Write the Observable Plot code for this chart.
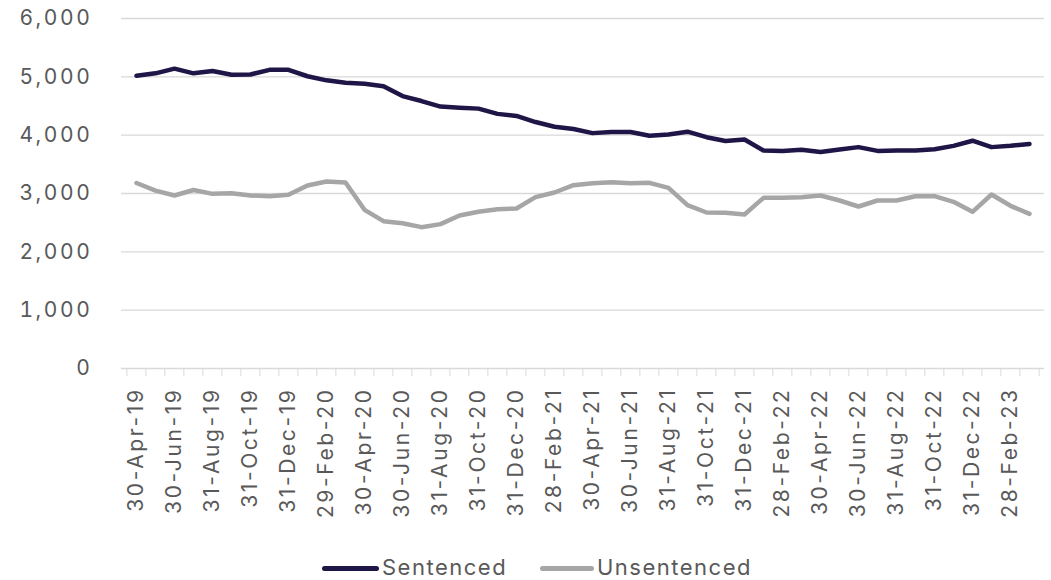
<!DOCTYPE html>
<html>
<head>
<meta charset="utf-8">
<script src="https://cdn.jsdelivr.net/npm/d3@7"></script>
<script src="https://cdn.jsdelivr.net/npm/@observablehq/plot@0.6"></script>
<style>
  html, body { margin: 0; padding: 0; background: #ffffff; }
  #wrap { position: relative; width: 1051px; height: 580px; overflow: hidden; }
  #chart svg text { letter-spacing: 2.6px; }
  .lg-sw { position: absolute; height: 5px; border-radius: 3px; }
  .lg-tx { position: absolute; font-family: Inter, "DejaVu Sans", sans-serif; font-size: 22px; color: #595959; line-height: 26px; letter-spacing: 1.5px; white-space: nowrap; }
</style>
</head>
<body>
<div id="wrap">
  <div id="chart"></div>
  <div id="legend"></div>
</div>
<script>
const dates = [
  "30-Apr-19","31-May-19","30-Jun-19","31-Jul-19","31-Aug-19","30-Sep-19","31-Oct-19","30-Nov-19","31-Dec-19",
  "31-Jan-20","29-Feb-20","31-Mar-20","30-Apr-20","31-May-20","30-Jun-20","31-Jul-20","31-Aug-20","30-Sep-20","31-Oct-20","30-Nov-20","31-Dec-20",
  "31-Jan-21","28-Feb-21","31-Mar-21","30-Apr-21","31-May-21","30-Jun-21","31-Jul-21","31-Aug-21","30-Sep-21","31-Oct-21","30-Nov-21","31-Dec-21",
  "31-Jan-22","28-Feb-22","31-Mar-22","30-Apr-22","31-May-22","30-Jun-22","31-Jul-22","31-Aug-22","30-Sep-22","31-Oct-22","30-Nov-22","31-Dec-22",
  "31-Jan-23","28-Feb-23","31-Mar-23"
];
const sentenced = [
  5020,5060,5140,5060,5100,5035,5040,5120,5120,5010,4940,4900,4880,4840,4670,4585,
  4490,4470,4455,4365,4330,4225,4145,4105,4035,4055,4055,3990,4010,4060,3965,3900,
  3925,3737,3730,3750,3710,3755,3795,3730,3737,3737,3760,3817,3905,3795,3817,3850
];
const unsentenced = [
  3180,3050,2966,3060,2994,3006,2966,2954,2977,3137,3206,3189,2720,2526,2491,2423,
  2475,2623,2686,2731,2743,2937,3017,3143,3177,3194,3177,3183,3097,2800,2674,2669,
  2640,2926,2926,2937,2966,2880,2777,2880,2880,2954,2954,2857,2686,2983,2789,2651
];
const seriesNames = ["Sentenced", "Unsentenced"];
const seriesColors = ["#201547", "#a6a6a6"];
const yTicks = [0, 1000, 2000, 3000, 4000, 5000, 6000];

const rows = dates.flatMap((d, i) => [
  {date: d, value: sentenced[i], series: seriesNames[0]},
  {date: d, value: unsentenced[i], series: seriesNames[1]}
]);

const W = 1051, H = 550, mL = 121, mR = 7, mT = 18, mB = 182;
const step = (W - mL - mR) / dates.length;
const font = 'Inter, "DejaVu Sans", sans-serif';

const chart = Plot.plot({
  width: W, height: H,
  marginLeft: mL, marginRight: mR, marginTop: mT, marginBottom: mB,
  style: {fontFamily: font, fontSize: "21px", color: "#595959", background: "#ffffff"},
  x: {type: "point", domain: dates, padding: 0.5, axis: null, label: null},
  y: {domain: [0, 6000], axis: null, label: null},
  color: {domain: seriesNames, range: seriesColors},
  marks: [
    Plot.gridY(yTicks, {stroke: "#d9d9d9", strokeOpacity: 1, strokeWidth: 1.4}),
    Plot.axisY(yTicks, {label: null, tickSize: 0, tickPadding: 29, tickFormat: d3.format(","), fill: "#595959", fontSize: 21}),
    Plot.axisX(dates, {label: null, tickSize: 8, tickFormat: () => "", dx: -step / 2, stroke: "#d9d9d9", strokeOpacity: 1}),
    Plot.axisX([dates[dates.length - 1]], {label: null, tickSize: 8, tickFormat: () => "", dx: step / 2, stroke: "#d9d9d9", strokeOpacity: 1}),
    Plot.axisX(dates.filter((d, i) => i % 2 === 0), {label: null, tickSize: 0, tickPadding: 19, tickRotate: -90, fill: "#595959", fontSize: 21}),
    Plot.line(rows, {x: "date", y: "value", stroke: "series", strokeWidth: 4.5, strokeLinejoin: "round", strokeLinecap: "round"})
  ]
});
document.getElementById("chart").appendChild(chart);

// legend (HTML, below the SVG)
const legend = document.getElementById("legend");
const legendPos = [{sw: 322, tx: 382}, {sw: 540, tx: 597}];
seriesNames.forEach((name, i) => {
  const sw = document.createElement("div");
  sw.className = "lg-sw";
  sw.style.left = legendPos[i].sw + "px";
  sw.style.top = "566px";
  sw.style.width = (i === 0 ? 57 : 54) + "px";
  sw.style.background = seriesColors[i];
  legend.appendChild(sw);
  const tx = document.createElement("div");
  tx.className = "lg-tx";
  tx.style.left = legendPos[i].tx + "px";
  tx.style.top = "554px";
  tx.textContent = name;
  legend.appendChild(tx);
});
</script>
</body>
</html>
